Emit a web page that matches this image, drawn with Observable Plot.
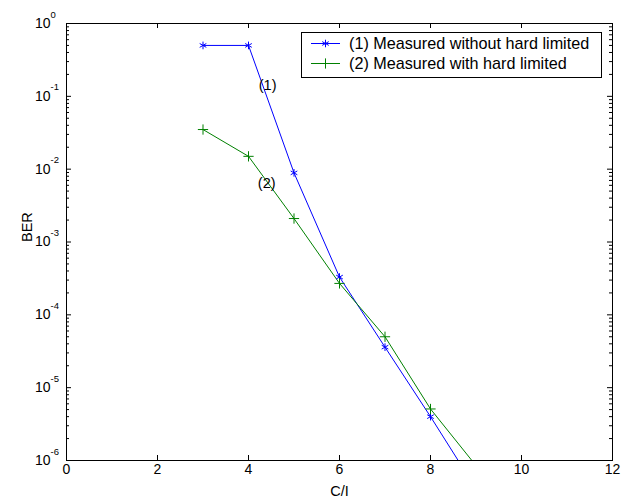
<!DOCTYPE html>
<html><head><meta charset="utf-8">
<script src="https://cdn.jsdelivr.net/npm/d3@7"></script>
<script src="https://cdn.jsdelivr.net/npm/@observablehq/plot@0.6"></script>
<style>
body{margin:0;background:#fff;font-family:"Liberation Sans",Arial,Helvetica,sans-serif;}
#wrap{position:relative;width:622px;height:504px;}
#legend{position:absolute;left:301px;top:32px;}
</style></head><body><div id="wrap"></div>
<script>
// Data
const snrX = [3, 4, 5, 6, 7, 8, 9];
const berWithout = [0.5, 0.5, 0.0089, 3.3e-4, 3.6e-5, 4.0e-6, 4.1e-7];
const berWith = [0.035, 0.015, 0.0021, 2.7e-4, 5.0e-5, 5.1e-6, 8.5e-7];
const seriesNames = ["(1) Measured without hard limited", "(2) Measured with hard limited"];
const seriesColors = ["#0000ff", "#008000"];
const seriesSymbols = ["asterisk", "plus"];
const xTicks = [0, 2, 4, 6, 8, 10, 12];
const yTicks = [1e-6, 1e-5, 1e-4, 1e-3, 1e-2, 1e-1, 1];
const yExponents = ["-6", "-5", "-4", "-3", "-2", "-1", "0"];
const curveLabels = ["(1)", "(2)"];
const curveLabelX = [4.42, 4.40];
const curveLabelY = [0.14, 0.0064];

const W = 622, H = 504, mL = 66, mR = 10, mT = 23, mB = 44;
const pw = W - mL - mR, ph = H - mT - mB;

const rowsA = snrX.map((x, i) => ({x, y: berWithout[i]}));
const rowsB = snrX.map((x, i) => ({x, y: berWith[i]}));
const minorTicks = [];
yTicks.slice(0, -1).forEach(t => { for (let m = 2; m <= 9; m++) minorTicks.push(t * m); });

const font = '"Liberation Sans", Arial, Helvetica, sans-serif';

const chart = Plot.plot({
  width: W, height: H,
  marginLeft: mL, marginRight: mR, marginTop: mT, marginBottom: mB,
  style: {fontFamily: font, fontSize: "14px", color: "#000", background: "#fff", overflow: "visible"},
  x: {domain: [0, 12], axis: null},
  y: {type: "log", domain: [1e-6, 1], axis: null},
  marks: [
    Plot.line(rowsA, {x: "x", y: "y", stroke: seriesColors[0], strokeWidth: 1, clip: true}),
    Plot.line(rowsB, {x: "x", y: "y", stroke: seriesColors[1], strokeWidth: 1, clip: true}),
    Plot.dot(rowsA, {x: "x", y: "y", symbol: seriesSymbols[0], stroke: seriesColors[0], r: 3.6, strokeWidth: 1, clip: true}),
    Plot.dot(rowsB, {x: "x", y: "y", symbol: seriesSymbols[1], stroke: seriesColors[1], r: 3.4, strokeWidth: 1, clip: true}),
    Plot.frame({stroke: "#000", strokeWidth: 1}),
    Plot.ruleX(xTicks, {x: d => d, insetTop: ph - 5, stroke: "#000"}),
    Plot.ruleX(xTicks, {x: d => d, insetBottom: ph - 5, stroke: "#000"}),
    Plot.ruleY(yTicks, {y: d => d, insetRight: pw - 5, stroke: "#000"}),
    Plot.ruleY(yTicks, {y: d => d, insetLeft: pw - 5, stroke: "#000"}),
    Plot.ruleY(minorTicks, {y: d => d, insetRight: pw - 3, stroke: "#000"}),
    Plot.ruleY(minorTicks, {y: d => d, insetLeft: pw - 3, stroke: "#000"}),
    Plot.text(xTicks, {x: d => d, frameAnchor: "bottom", dy: 13, text: d => String(d), fill: "#000"}),
    Plot.text(yTicks, {y: d => d, frameAnchor: "left", dx: -16, textAnchor: "end", text: () => "10", fill: "#000"}),
    Plot.text(yTicks, {y: d => d, frameAnchor: "left", dx: -16, dy: -9, textAnchor: "start", fontSize: 9.5, text: (d, i) => yExponents[i], fill: "#000"}),
    Plot.text(["C/I"], {frameAnchor: "bottom", dy: 35, text: d => d, fill: "#000", fontSize: 14.5}),
    Plot.text(["BER"], {frameAnchor: "left", dx: -39, rotate: -90, text: d => d, fill: "#000", fontSize: 14.5}),
    Plot.text(curveLabels, {x: (d, i) => curveLabelX[i], y: (d, i) => curveLabelY[i], text: d => d, fill: "#000", fontSize: 14.5})
  ]
});
document.getElementById("wrap").appendChild(chart);

// Legend box (inside the axes, top right)
const lw = 300, lh = 45;
const leg = d3.select("#wrap").append("svg").attr("id", "legend")
  .attr("width", lw + 1).attr("height", lh + 1);
leg.append("rect").attr("x", 0.5).attr("y", 0.5).attr("width", lw).attr("height", lh)
  .attr("fill", "#fff").attr("stroke", "#000");
const symMap = {asterisk: d3.symbolAsterisk, plus: d3.symbolPlus};
seriesNames.forEach((name, i) => {
  const cy = 11.5 + i * 20;
  const g = leg.append("g");
  g.append("line").attr("x1", 10).attr("x2", 39).attr("y1", cy).attr("y2", cy)
    .attr("stroke", seriesColors[i]).attr("stroke-width", 1);
  g.append("path").attr("transform", `translate(24.5,${cy})`)
    .attr("d", d3.symbol(symMap[seriesSymbols[i]], i === 0 ? 40 : 36)())
    .attr("fill", "none").attr("stroke", seriesColors[i]);
  g.append("text").attr("x", 48).attr("y", cy).attr("dy", "0.35em")
    .attr("font-family", font).attr("font-size", 16.2).attr("fill", "#000").text(name);
});
</script>
</body></html>
